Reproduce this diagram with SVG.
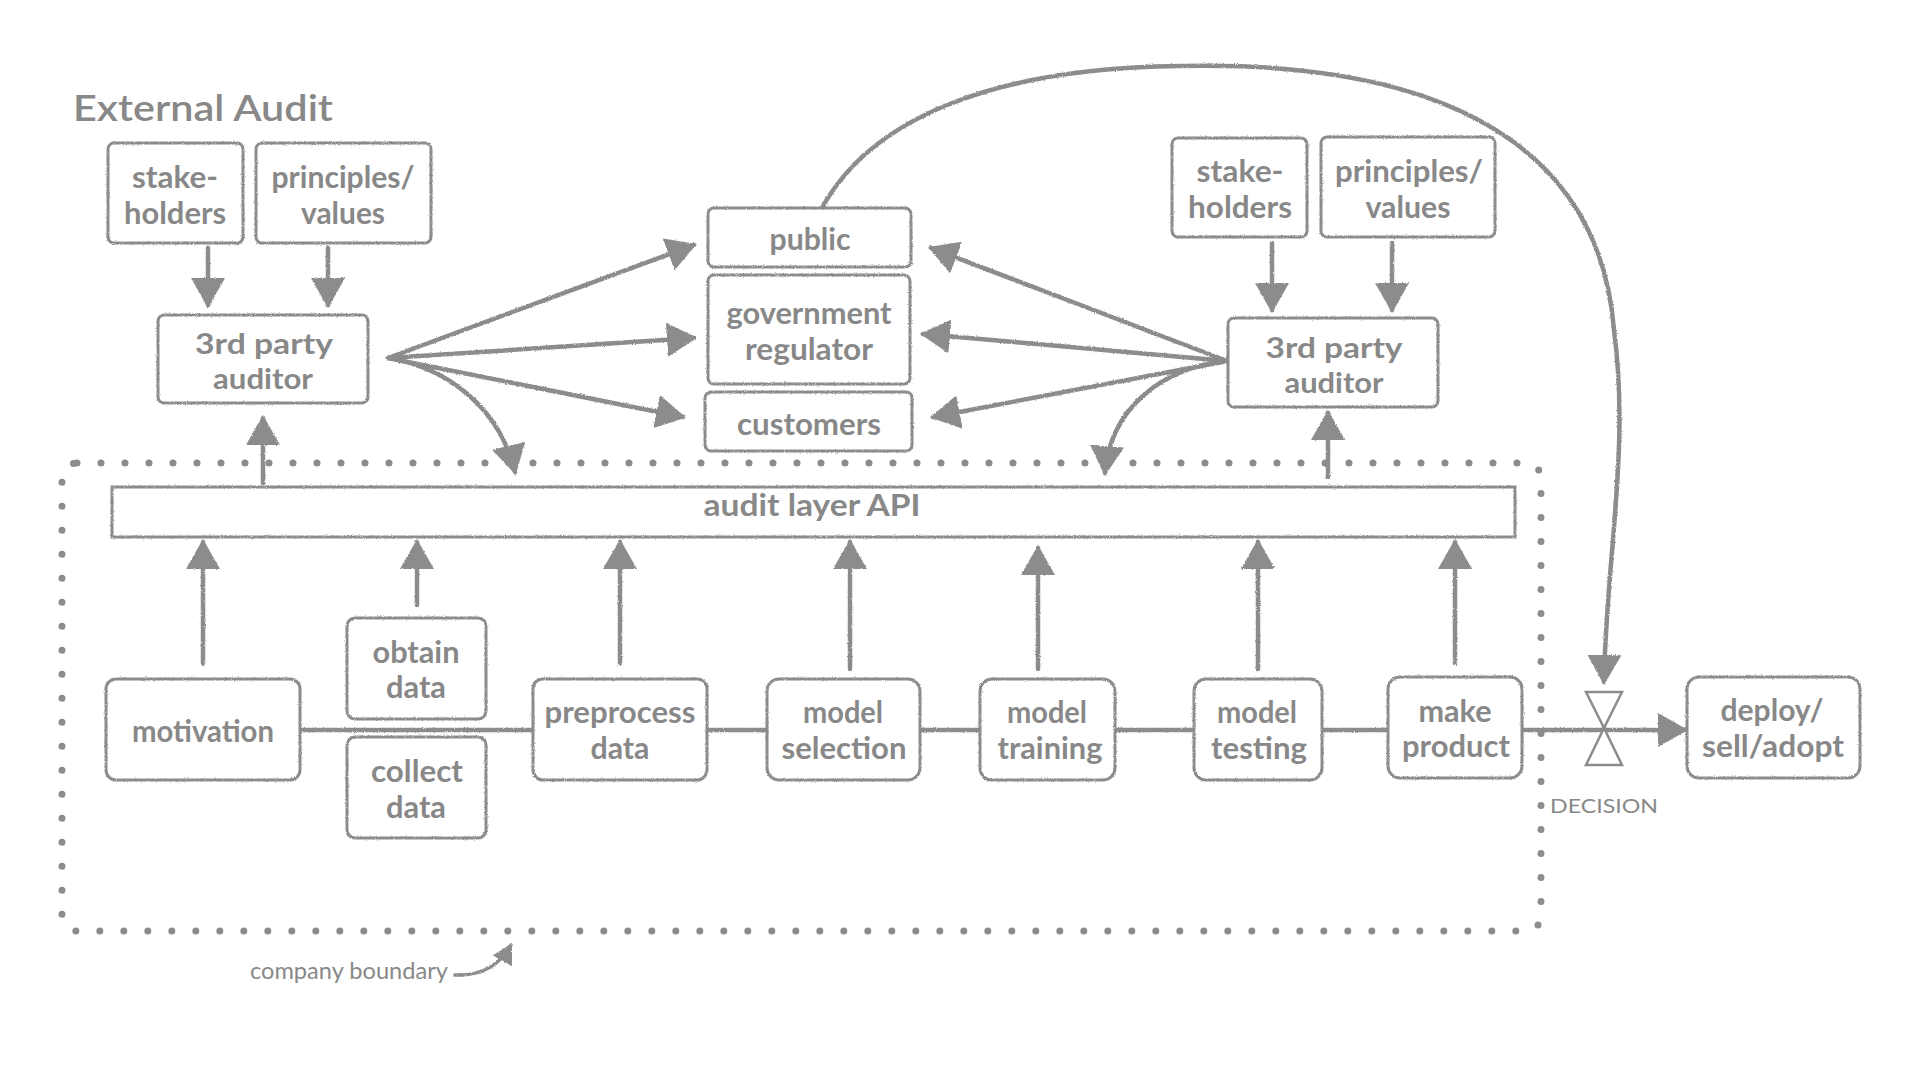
<svg xmlns="http://www.w3.org/2000/svg" width="1920" height="1080" viewBox="0 0 1920 1080">
<defs>
<style>
.box{fill:#fff;stroke:#8c8c8c;stroke-width:3;filter:url(#rough)}
.t{font-family:Lato,"Noto Sans",sans-serif;font-size:31px;fill:#888;text-anchor:middle;font-weight:700}
.a{font-size:28px}
.c{fill:none;stroke:#8c8c8c;stroke-width:4.5;stroke-linecap:round;filter:url(#rough)}
.dots{fill:none;stroke:#8c8c8c;stroke-width:7;stroke-linecap:round;stroke-dasharray:0 24}
.hg{fill:#fff;stroke:#8c8c8c;stroke-width:2.5}
</style>
<filter id="rough" filterUnits="userSpaceOnUse" x="0" y="0" width="1920" height="1080">
<feTurbulence type="fractalNoise" baseFrequency="0.9" numOctaves="2" result="n"/>
<feDisplacementMap in="SourceGraphic" in2="n" scale="2.5" xChannelSelector="R" yChannelSelector="G"/>
</filter>
<marker id="ah" viewBox="0 0 30 34" refX="27" refY="17" markerWidth="30" markerHeight="34" markerUnits="userSpaceOnUse" orient="auto">
<path d="M0,0 L30,17 L0,34 z" fill="#8c8c8c"/>
</marker>
<marker id="ahs" viewBox="0 0 20 22" refX="18" refY="11" markerWidth="20" markerHeight="22" markerUnits="userSpaceOnUse" orient="auto">
<path d="M0,0 L20,11 L0,22 z" fill="#8c8c8c"/>
</marker>
</defs>
<rect width="1920" height="1080" fill="#fff"/>

<g id="boundary">
<rect class="dots" x="62" y="463" width="1479" height="468" rx="15"/>
</g>

<g id="connectors">
<path class="c" d="M208,248 V305" marker-end="url(#ah)"/>
<path class="c" d="M328,248 V305" marker-end="url(#ah)"/>
<path class="c" d="M1272,243 V310" marker-end="url(#ah)"/>
<path class="c" d="M1392,243 V310" marker-end="url(#ah)"/>
<path class="c" d="M263,483 V418" marker-end="url(#ah)"/>
<path class="c" d="M1328,477 V413" marker-end="url(#ah)"/>
<path class="c" d="M203,663 V542" marker-end="url(#ah)"/>
<path class="c" d="M417,605 V542" marker-end="url(#ah)"/>
<path class="c" d="M620,663 V542" marker-end="url(#ah)"/>
<path class="c" d="M850,669 V542" marker-end="url(#ah)"/>
<path class="c" d="M1038,669 V548" marker-end="url(#ah)"/>
<path class="c" d="M1258,669 V542" marker-end="url(#ah)"/>
<path class="c" d="M1455,663 V542" marker-end="url(#ah)"/>
<path class="c" d="M388,358 L694,245" marker-end="url(#ah)"/>
<path class="c" d="M388,358 L694,338" marker-end="url(#ah)"/>
<path class="c" d="M388,358 L683,417" marker-end="url(#ah)"/>
<path class="c" d="M388,358 C450,368 500,410 515,472" marker-end="url(#ah)"/>
<path class="c" d="M1227,361 L931,248" marker-end="url(#ah)"/>
<path class="c" d="M1227,361 L923,334" marker-end="url(#ah)"/>
<path class="c" d="M1227,361 L933,417" marker-end="url(#ah)"/>
<path class="c" d="M1227,361 C1160,368 1110,410 1105,473" marker-end="url(#ah)"/>
<path class="c" d="M300,730 L1685,730" marker-end="url(#ah)"/>
<path class="c" d="M822,208 C870,120 990,68 1180,66 C1450,60 1600,150 1614,330 C1630,450 1606,560 1604,682" marker-end="url(#ah)"/>
<path class="c" style="stroke-width:3.5" d="M455,975 C482,976 500,965 511,945" marker-end="url(#ahs)"/>
</g>

<g id="title"><text class="t" x="73" y="121" style="text-anchor:start;font-size:36px;font-weight:600" textLength="260" lengthAdjust="spacingAndGlyphs">External Audit</text></g>

<g id="ext-stakeholders-left">
<rect class="box" x="108" y="143" width="135" height="100" rx="6"/>
<text class="t" x="175" y="188" textLength="86" lengthAdjust="spacingAndGlyphs">stake-</text>
<text class="t" x="175" y="224" textLength="102" lengthAdjust="spacingAndGlyphs">holders</text>
</g>
<g id="ext-principles-left">
<rect class="box" x="256" y="143" width="175" height="100" rx="6"/>
<text class="t" x="343" y="188" textLength="143" lengthAdjust="spacingAndGlyphs">principles/</text>
<text class="t" x="343" y="224" textLength="84" lengthAdjust="spacingAndGlyphs">values</text>
</g>
<g id="auditor-left">
<rect class="box" x="158" y="315" width="210" height="88" rx="6"/>
<text class="t a" x="264" y="354" textLength="138" lengthAdjust="spacingAndGlyphs">3rd party</text>
<text class="t a" x="263" y="389" textLength="100" lengthAdjust="spacingAndGlyphs">auditor</text>
</g>
<g id="public">
<rect class="box" x="708" y="208" width="203" height="59" rx="6"/>
<text class="t" x="810" y="250" textLength="81" lengthAdjust="spacingAndGlyphs">public</text>
</g>
<g id="government-regulator">
<rect class="box" x="708" y="275" width="202" height="109" rx="6"/>
<text class="t" x="809" y="324" textLength="165" lengthAdjust="spacingAndGlyphs">government</text>
<text class="t" x="809" y="360" textLength="128" lengthAdjust="spacingAndGlyphs">regulator</text>
</g>
<g id="customers">
<rect class="box" x="705" y="392" width="207" height="59" rx="6"/>
<text class="t" x="809" y="435" textLength="144" lengthAdjust="spacingAndGlyphs">customers</text>
</g>
<g id="ext-stakeholders-right">
<rect class="box" x="1172" y="138" width="135" height="99" rx="6"/>
<text class="t" x="1240" y="182" textLength="87" lengthAdjust="spacingAndGlyphs">stake-</text>
<text class="t" x="1240" y="218" textLength="104" lengthAdjust="spacingAndGlyphs">holders</text>
</g>
<g id="ext-principles-right">
<rect class="box" x="1321" y="137" width="174" height="100" rx="6"/>
<text class="t" x="1409" y="182" textLength="148" lengthAdjust="spacingAndGlyphs">principles/</text>
<text class="t" x="1408" y="218" textLength="85" lengthAdjust="spacingAndGlyphs">values</text>
</g>
<g id="auditor-right">
<rect class="box" x="1228" y="318" width="210" height="89" rx="6"/>
<text class="t a" x="1334" y="358" textLength="137" lengthAdjust="spacingAndGlyphs">3rd party</text>
<text class="t a" x="1334" y="393" textLength="99" lengthAdjust="spacingAndGlyphs">auditor</text>
</g>
<g id="audit-layer-api">
<rect class="box" x="112" y="487" width="1403" height="50"/>
<text class="t" x="812" y="516" textLength="217" lengthAdjust="spacingAndGlyphs">audit layer API</text>
</g>
<g id="motivation">
<rect class="box" x="106" y="679" width="194" height="101" rx="10"/>
<text class="t" x="203" y="742" textLength="142" lengthAdjust="spacingAndGlyphs">motivation</text>
</g>
<g id="obtain-data">
<rect class="box" x="347" y="618" width="139" height="101" rx="8"/>
<text class="t" x="416" y="663" textLength="87" lengthAdjust="spacingAndGlyphs">obtain</text>
<text class="t" x="416" y="698" textLength="60" lengthAdjust="spacingAndGlyphs">data</text>
</g>
<g id="collect-data">
<rect class="box" x="347" y="737" width="139" height="101" rx="8"/>
<text class="t" x="417" y="782" textLength="92" lengthAdjust="spacingAndGlyphs">collect</text>
<text class="t" x="416" y="818" textLength="60" lengthAdjust="spacingAndGlyphs">data</text>
</g>
<g id="preprocess-data">
<rect class="box" x="533" y="679" width="174" height="101" rx="10"/>
<text class="t" x="620" y="723" textLength="151" lengthAdjust="spacingAndGlyphs">preprocess</text>
<text class="t" x="620" y="759" textLength="59" lengthAdjust="spacingAndGlyphs">data</text>
</g>
<g id="model-selection">
<rect class="box" x="767" y="679" width="153" height="101" rx="12"/>
<text class="t" x="843" y="723" textLength="80" lengthAdjust="spacingAndGlyphs">model</text>
<text class="t" x="844" y="759" textLength="125" lengthAdjust="spacingAndGlyphs">selection</text>
</g>
<g id="model-training">
<rect class="box" x="980" y="679" width="135" height="101" rx="12"/>
<text class="t" x="1047" y="723" textLength="80" lengthAdjust="spacingAndGlyphs">model</text>
<text class="t" x="1050" y="759" textLength="105" lengthAdjust="spacingAndGlyphs">training</text>
</g>
<g id="model-testing">
<rect class="box" x="1194" y="679" width="128" height="101" rx="12"/>
<text class="t" x="1257" y="723" textLength="80" lengthAdjust="spacingAndGlyphs">model</text>
<text class="t" x="1259" y="759" textLength="96" lengthAdjust="spacingAndGlyphs">testing</text>
</g>
<g id="make-product">
<rect class="box" x="1388" y="677" width="134" height="101" rx="12"/>
<text class="t" x="1455" y="722" textLength="73" lengthAdjust="spacingAndGlyphs">make</text>
<text class="t" x="1456" y="757" textLength="108" lengthAdjust="spacingAndGlyphs">product</text>
</g>
<g id="decision">
<path class="hg" d="M1586,692 H1622 L1604,728 Z M1604,728 L1622,765 H1586 Z"/>
<text class="t" x="1550" y="813" style="text-anchor:start;font-size:20px;font-weight:400" textLength="108" lengthAdjust="spacingAndGlyphs">DECISION</text>
</g>
<g id="deploy">
<rect class="box" x="1687" y="677" width="173" height="101" rx="12"/>
<text class="t" x="1772" y="721" style="font-size:30px" textLength="103" lengthAdjust="spacingAndGlyphs">deploy/</text>
<text class="t" x="1773" y="757" style="font-size:30px" textLength="142" lengthAdjust="spacingAndGlyphs">sell/adopt</text>
</g>
<g id="company-boundary-label">
<text class="t" x="250" y="979" style="text-anchor:start;font-size:24px;font-weight:400" textLength="198" lengthAdjust="spacingAndGlyphs">company boundary</text>
</g>
</svg>
